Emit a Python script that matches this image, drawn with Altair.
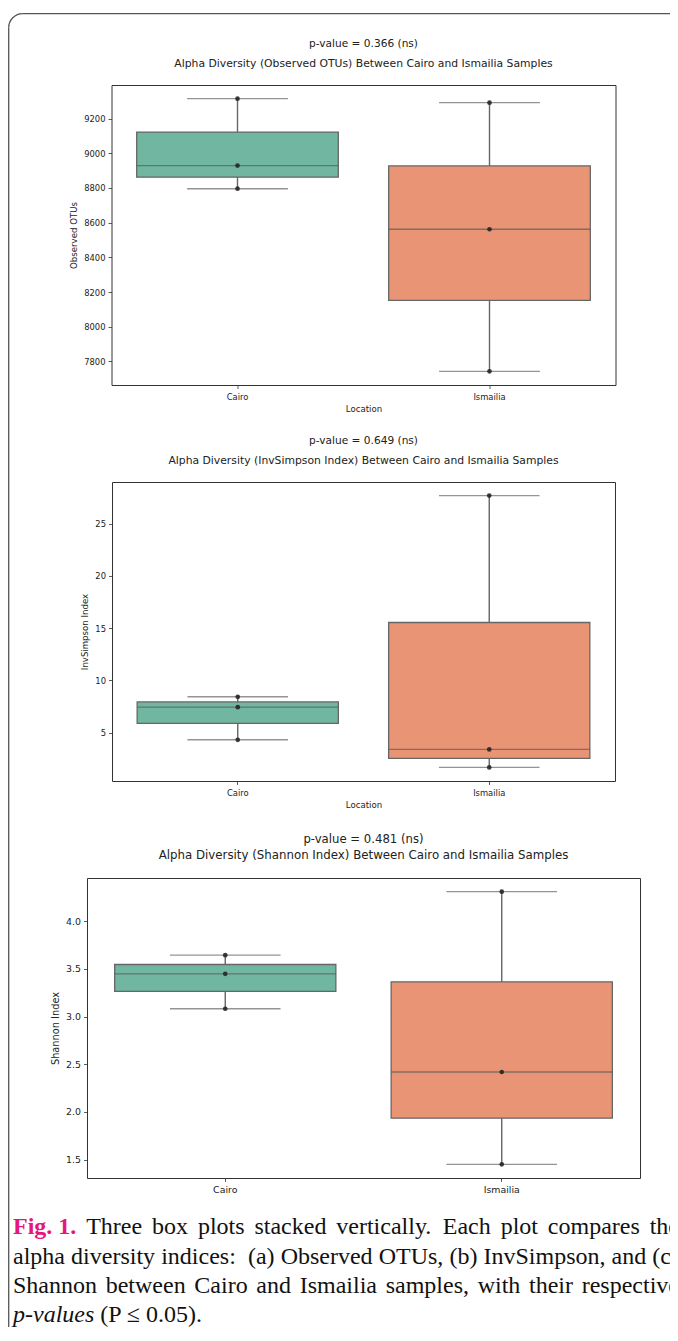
import altair as alt
import pandas as pd

# ---------------- data ----------------
LOCATIONS = ["Cairo", "Ismailia"]
OTU_CAIRO = [8796, 8929, 9315]
OTU_ISMAILIA = [7743, 8562, 9292]
INVS_CAIRO = [4.33, 7.45, 8.44]
INVS_ISMAILIA = [1.69, 3.41, 27.67]
SHAN_CAIRO = [3.082, 3.448, 3.644]
SHAN_ISMAILIA = [1.451, 2.419, 4.310]

P_TEXTS = ["p-value = 0.366 (ns)", "p-value = 0.649 (ns)", "p-value = 0.481 (ns)"]
TITLES = [
    "Alpha Diversity (Observed OTUs) Between Cairo and Ismailia Samples",
    "Alpha Diversity (InvSimpson Index) Between Cairo and Ismailia Samples",
    "Alpha Diversity (Shannon Index) Between Cairo and Ismailia Samples",
]
Y_TITLES = ["Observed OTUs", "InvSimpson Index", "Shannon Index"]
X_TITLE = "Location"
Y_TICKS = [
    [7800, 8000, 8200, 8400, 8600, 8800, 9000, 9200],
    [5, 10, 15, 20, 25],
    [1.5, 2.0, 2.5, 3.0, 3.5, 4.0],
]
Y_FORMATS = ["d", "d", ".1f"]
BOX_COLORS = ["#71b6a1", "#e99575"]

CAPTION_FIG = "Fig. 1."
CAPTION_LINES = [
    "Three box plots stacked vertically. Each plot compares the",
    "alpha diversity indices:  (a) Observed OTUs, (b) InvSimpson, and (c)",
    "Shannon between Cairo and Ismailia samples, with their respective",
]
CAPTION_ITALIC = "p-values"
CAPTION_END = "(P \u2264 0.05)."

# ---------------- styles ----------------
LINE = "#666666"
TXT = "#222222"
FONT = "DejaVu Sans"
SERIF = "Liberation Serif"
MAGENTA = "#e5177e"
BORDER = "#555555"


def panel(cairo, ismailia, ytitle, yticks, yfmt, W, fs_lab, fs_axt, xtitle):
    df = pd.DataFrame({
        "location": ["Cairo"] * len(cairo) + ["Ismailia"] * len(ismailia),
        "value": cairo + ismailia,
    })
    vals = cairo + ismailia
    lo, hi = min(vals), max(vals)
    m = 0.05 * (hi - lo)
    step = W / 2.0

    xaxis_kw = dict(labelAngle=0, grid=False, domain=False, tickSize=3.5,
                    tickColor="#333333", tickWidth=0.8, labelFont=FONT,
                    labelFontSize=fs_lab, labelColor=TXT, labelPadding=3.5,
                    titleFont=FONT, titleFontSize=fs_axt, titleFontWeight="normal",
                    titleColor=TXT, titlePadding=4)
    if xtitle:
        xaxis = alt.Axis(title=xtitle, **xaxis_kw)
    else:
        xaxis = alt.Axis(title=None, **xaxis_kw)
    x = alt.X("location:N",
              scale=alt.Scale(domain=LOCATIONS, type="band", paddingInner=0, paddingOuter=0),
              axis=xaxis)
    yscale = alt.Scale(domain=[lo - m, hi + m], nice=False, zero=False)
    yaxis = alt.Axis(title=ytitle, values=yticks, format=yfmt, grid=False, domain=False,
                     tickSize=3.5, tickColor="#333333", tickWidth=0.8, labelFont=FONT,
                     labelFontSize=fs_lab, labelColor=TXT, labelPadding=3,
                     titleFont=FONT, titleFontSize=fs_axt, titleFontWeight="normal",
                     titleColor=TXT, titlePadding=5)

    def Y(f):
        return alt.Y(f, scale=yscale, axis=yaxis)

    base = alt.Chart(df).encode(x=x)
    stats = base.transform_aggregate(
        lo="min(value)", hi="max(value)", q1="q1(value)", q3="q3(value)",
        med="median(value)", groupby=["location"])
    whisk = stats.mark_rule(color=LINE, strokeWidth=1.4).encode(y=Y("lo:Q"), y2="hi:Q")
    box = stats.mark_bar(width=alt.RelativeBandSize(0.8), stroke=LINE, strokeWidth=1.3).encode(
        y=Y("q1:Q"), y2="q3:Q",
        color=alt.Color("location:N", scale=alt.Scale(domain=LOCATIONS, range=BOX_COLORS), legend=None))
    med = stats.mark_tick(size=0.8 * step, thickness=1.4, color="#5a5a5a").encode(y=Y("med:Q"))
    cap_lo = stats.mark_tick(size=0.4 * step, thickness=1.4, color=LINE).encode(y=Y("lo:Q"))
    cap_hi = stats.mark_tick(size=0.4 * step, thickness=1.4, color=LINE).encode(y=Y("hi:Q"))
    pts = base.mark_circle(size=22, color="#262626", opacity=0.9).encode(y=Y("value:Q"))
    return alt.layer(whisk, box, med, cap_lo, cap_hi, pts)


def title_params(ptext, title, fs_t, fs_s, sub_pad):
    return alt.TitleParams(text=ptext, subtitle=title, font=FONT, fontSize=fs_t,
                           fontWeight="normal", color=TXT, subtitleFont=FONT,
                           subtitleFontSize=fs_s, subtitleColor=TXT,
                           subtitlePadding=sub_pad, offset=16, anchor="middle")


W1, H1 = 504, 300
W2, H2 = 503, 299
W3, H3 = 553, 300
SPACING = 97

p1 = panel(OTU_CAIRO, OTU_ISMAILIA, Y_TITLES[0], Y_TICKS[0], Y_FORMATS[0], W1, 8.4, 8.6, X_TITLE)
p2 = panel(INVS_CAIRO, INVS_ISMAILIA, Y_TITLES[1], Y_TICKS[1], Y_FORMATS[1], W2, 8.4, 8.6, X_TITLE)
p3 = panel(SHAN_CAIRO, SHAN_ISMAILIA, Y_TITLES[2], Y_TICKS[2], Y_FORMATS[2], W3, 9.4, 9.8, None)

# ---------------- page geometry ----------------
SVG_LEFT, SVG_TOP = 8.0, 8.0                  # where the drawing lands on the page
SVG_W, SVG_H = 662, 1319                      # drawing size that fits the window
TOP1 = 85.0                                   # page y of top panel's plot area
OX = 87.0                                     # page x of bottom panel's plot area
OY = TOP1 + H1 + SPACING + H2 + SPACING       # page y of bottom panel's plot area

# ---------------- caption layout (relative to bottom panel origin) ----------------
FS_CAP = 24.0
TIMES_R = {" ": 250, "(": 333, ")": 333, ",": 250, "-": 333, ".": 250, ":": 278,
           "0": 500, "1": 500, "5": 500, "\u2264": 549,
           "A": 722, "B": 667, "C": 667, "D": 722, "E": 611, "F": 556, "I": 333,
           "O": 722, "P": 556, "S": 556, "T": 611, "U": 722,
           "a": 444, "b": 500, "c": 444, "d": 500, "e": 444, "f": 333, "g": 500,
           "h": 500, "i": 278, "k": 500, "l": 278, "m": 778, "n": 500, "o": 500,
           "p": 500, "r": 333, "s": 389, "t": 278, "u": 500, "v": 500, "w": 722,
           "x": 500, "y": 500}
TIMES_B = {"F": 611, "i": 278, "g": 500, ".": 250, " ": 250, "1": 500}
TIMES_I = {"p": 500, "-": 333, "v": 444, "a": 500, "l": 278, "u": 500, "e": 444, "s": 389}


def tw(s, table):
    return sum(table.get(c, 500) for c in s) * FS_CAP / 1000.0


X_START = 13.0 - OX
X_END = 679.0 - OX
BASELINES = [1234.0 - OY, 1263.5 - OY, 1293.0 - OY, 1321.5 - OY]
SP = tw(" ", TIMES_R)

reg_rows, bold_rows, ital_rows = [], [], []
for li, line in enumerate(CAPTION_LINES):
    units = []  # (text, style, extra_before)
    if li == 0:
        units.append((CAPTION_FIG, "b", 0.0))
    extra = 0.0
    for tok in line.split(" "):
        if tok == "":
            extra += SP
            continue
        units.append((tok, "r", extra))
        extra = 0.0
    widths = [tw(u[0], TIMES_B if u[1] == "b" else TIMES_R) for u in units]
    extras = sum(u[2] for u in units[1:])
    gap = (X_END - X_START - sum(widths) - extras) / (len(units) - 1)
    xpos = X_START
    for k, (u, w) in enumerate(zip(units, widths)):
        if k > 0:
            xpos += gap + u[2]
        row = {"word": u[0], "px": xpos, "py": BASELINES[li]}
        (bold_rows if u[1] == "b" else reg_rows).append(row)
        xpos += w
ital_rows.append({"word": CAPTION_ITALIC, "px": X_START, "py": BASELINES[3]})
reg_rows.append({"word": CAPTION_END, "px": X_START + tw(CAPTION_ITALIC, TIMES_I) + SP,
                 "py": BASELINES[3]})


def cap_layer(rows, **kw):
    return alt.Chart(pd.DataFrame(rows)).mark_text(
        align="left", baseline="alphabetic", font=SERIF, fontSize=FS_CAP, **kw
    ).encode(x=alt.X("px:Q", scale=None, axis=None),
             y=alt.Y("py:Q", scale=None, axis=None),
             text="word:N")


cap_reg = cap_layer(reg_rows, color="#111111")
cap_bold = cap_layer(bold_rows, color=MAGENTA, fontWeight="bold")
cap_ital = cap_layer(ital_rows, color="#111111", fontStyle="italic")

# bottom panel's two-line title drawn as text (its layer also holds the page frame)
one = pd.DataFrame({"k": [0]})
t3_p = alt.Chart(one).mark_text(font=FONT, fontSize=11.7, color=TXT, align="center",
                                baseline="middle").encode(
    x=alt.value(W3 / 2.0), y=alt.value(838.5 - OY), text=alt.value(P_TEXTS[2]))
t3_s = alt.Chart(one).mark_text(font=FONT, fontSize=11.8, color=TXT, align="center",
                                baseline="middle").encode(
    x=alt.value(W3 / 2.0), y=alt.value(855.0 - OY), text=alt.value(TITLES[2]))

# ---------------- outer rounded border (top + left edges, corner arc) ----------------
R = 14.0
BX, BY = 8.7 - OX, 13.6 - OY
border_top = alt.Chart(one).mark_rule(color=BORDER, strokeWidth=1.3).encode(
    x=alt.value(BX + R), x2=alt.value(700.0 - OX), y=alt.value(BY))
border_left = alt.Chart(one).mark_rule(color=BORDER, strokeWidth=1.3).encode(
    x=alt.value(BX), y=alt.value(BY + R), y2=alt.value(1360.0 - OY))
border_arc = alt.Chart(one).mark_arc(
    radius=R + 0.65, radius2=R - 0.65, theta=4.712389, theta2=6.283185, color=BORDER
).encode(x=alt.value(BX + R), y=alt.value(BY + R))

c1 = p1.properties(width=W1, height=H1, title=title_params(P_TEXTS[0], TITLES[0], 10.6, 10.8, 9))
c2 = p2.properties(width=W2, height=H2, title=title_params(P_TEXTS[1], TITLES[1], 10.6, 10.8, 9))
c3 = alt.layer(p3, t3_p, t3_s, border_top, border_left, border_arc,
               cap_reg, cap_bold, cap_ital).resolve_scale(
    x="independent", y="independent").properties(width=W3, height=H3)

PAD_L = OX - SVG_LEFT
PAD_T = TOP1 - SVG_TOP
chart = alt.vconcat(c1, c2, c3, spacing=SPACING, bounds="flush", center=True).properties(
    autosize=alt.AutoSizeParams(type="none"),
    padding={"left": PAD_L, "top": PAD_T, "right": SVG_W - PAD_L, "bottom": SVG_H - PAD_T},
    background="white",
).configure_view(stroke="#333333", strokeWidth=1)

chart.save("out.html", embed_options={"renderer": "svg", "actions": False})
